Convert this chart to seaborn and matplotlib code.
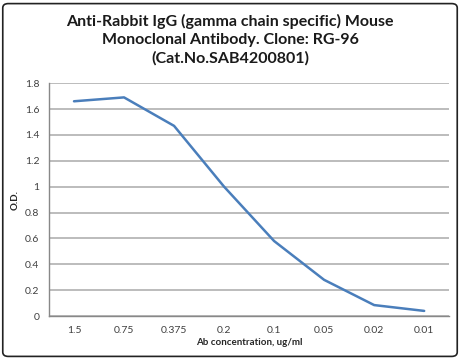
import matplotlib
matplotlib.use("Agg")
import matplotlib.pyplot as plt
from matplotlib.patches import FancyBboxPatch
import seaborn as sns
import numpy as np
import pandas as pd

# dados
concentracoes = ["1.5", "0.75", "0.375", "0.2", "0.1", "0.05", "0.02", "0.01"]
od_valores = [1.66, 1.69, 1.47, 1.00, 0.58, 0.28, 0.085, 0.04]
y_ticks = [0, 0.2, 0.4, 0.6, 0.8, 1, 1.2, 1.4, 1.6, 1.8]

sns.set_theme(style="white")
plt.rcParams['font.family'] = ['Lato', 'DejaVu Sans']

df = pd.DataFrame({"pos": np.arange(len(concentracoes)), "od": od_valores})

fig = plt.figure(figsize=(4.6, 3.6), dpi=100)
ax = fig.add_axes([0.1065, 0.122, 0.87, 0.647])

sns.lineplot(data=df, x="pos", y="od", ax=ax, color="#4a7ebb", linewidth=1.8, zorder=3)

ax.set_xlim(-0.5, len(concentracoes) - 0.5)
ax.set_ylim(0, 1.8)
ax.set_yticks(y_ticks)
ax.set_yticklabels([f"{v:g}" for v in y_ticks], fontsize=7.5, color="#404040")

# ticks nas fronteiras, rótulos no centro (estilo Excel)
ax.set_xticks(np.arange(len(concentracoes) + 1) - 0.5)
ax.set_xticklabels([])
ax.set_xticks(np.arange(len(concentracoes)), minor=True)
ax.set_xticklabels(concentracoes, minor=True, fontsize=7.5, color="#404040")
ax.tick_params(axis="x", which="major", length=4, color="#888888", direction="out")
ax.tick_params(axis="x", which="minor", length=0, pad=7)
ax.tick_params(axis="y", length=4, color="#888888", direction="out", pad=3)

ax.set_axisbelow(True)
ax.grid(True, axis="y", which="major", color="#b0b0b0", linewidth=1.2, linestyle="-")
for lado in ["top", "right"]:
    ax.spines[lado].set_visible(False)
for lado in ["left", "bottom"]:
    ax.spines[lado].set_color("#888888")
    ax.spines[lado].set_linewidth(1.0)

ax.set_xlabel("Ab concentration, ug/ml", fontsize=7, fontweight="bold", labelpad=2)
ax.set_ylabel("O.D.", fontsize=7, fontweight="bold", labelpad=4)

fig.text(0.5, 0.889, "Anti-Rabbit IgG (gamma chain specific) Mouse\n"
         "Monoclonal Antibody. Clone: RG-96\n(Cat.No.SAB4200801)",
         ha="center", va="center", fontsize=11.5, fontweight="bold",
         linespacing=1.37, color="#1a1a1a")

# moldura da figura
borda = FancyBboxPatch((0.006, 0.01), 0.988, 0.98, boxstyle="round,pad=0,rounding_size=0.012",
                       transform=fig.transFigure, fill=False, edgecolor="#222222", linewidth=1.2)
fig.patches.append(borda)

fig.savefig("out.png", dpi=100)
